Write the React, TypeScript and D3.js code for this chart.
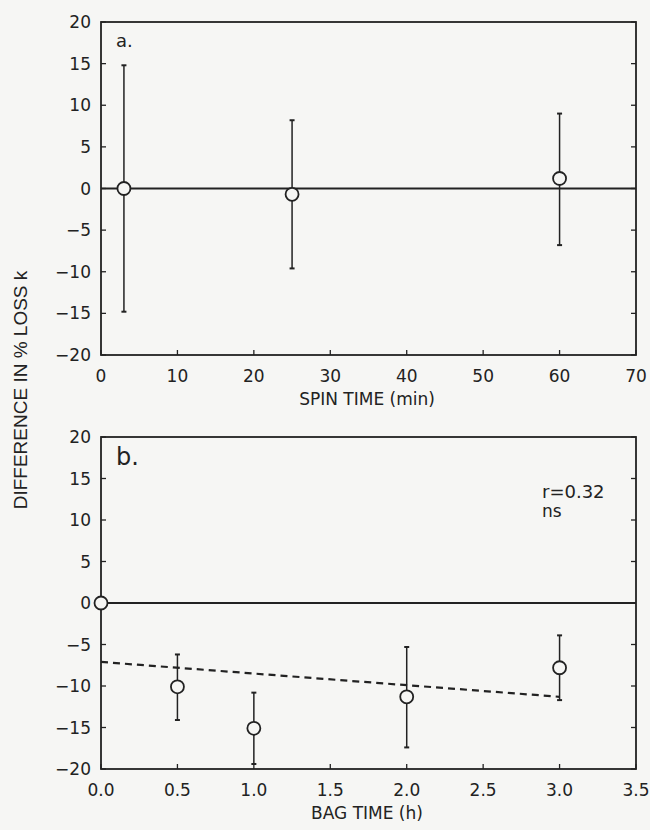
import React from 'react';
import * as d3 from 'd3';

// panel a: spin time
const spinTime = [3, 25, 60];
const spinDiff = [0, -0.7, 1.2];
const spinHi = [14.8, 8.2, 9.0];
const spinLo = [-14.8, -9.6, -6.8];
const spinTicks = [0, 10, 20, 30, 40, 50, 60, 70];

// panel b: bag time
const bagTime = [0, 0.5, 1.0, 2.0, 3.0];
const bagDiff = [0, -10.1, -15.1, -11.3, -7.8];
const bagHi = [null, -6.2, -10.8, -5.3, -3.9];
const bagLo = [null, -14.1, -19.4, -17.4, -11.7];
const bagTicks = [0, 0.5, 1.0, 1.5, 2.0, 2.5, 3.0, 3.5];

// regression line for panel b
const fitTime = [0, 3.0];
const fitDiff = [-7.1, -11.3];

const yTicks = [-20, -15, -10, -5, 0, 5, 10, 15, 20];

const INK = '#222';
const FONT = 'DejaVu Sans, sans-serif';

type PanelProps = {
  top: number;
  bottom: number;
  xMax: number;
  xTicks: number[];
  xFmt: (v: number) => string;
  xs: number[];
  ys: number[];
  his: (number | null)[];
  los: (number | null)[];
  tag: string;
  tagSize: number;
  title: string;
  fit?: { xs: number[]; ys: number[] };
};

function Panel(p: PanelProps) {
  const left = 101;
  const right = 636;
  const x = d3.scaleLinear().domain([0, p.xMax]).range([left, right]);
  const y = d3.scaleLinear().domain([-20, 20]).range([p.bottom, p.top]);
  const tick = 5;
  const cap = 2.5;

  const fitPath = p.fit
    ? d3.line<number>().x((d) => x(d)).y((_, i) => y(p.fit!.ys[i]))(p.fit.xs)
    : null;

  return (
    <g>
      {/* frame */}
      <rect x={left} y={p.top} width={right - left} height={p.bottom - p.top}
        fill="none" stroke={INK} strokeWidth={1.8} />

      {/* y ticks, both sides, inward */}
      {yTicks.map((t) => (
        <g key={'y' + t}>
          <line x1={left} x2={left + tick} y1={y(t)} y2={y(t)} stroke={INK} strokeWidth={1.3} />
          <line x1={right} x2={right - tick} y1={y(t)} y2={y(t)} stroke={INK} strokeWidth={1.3} />
          <text x={left - 10} y={y(t)} dy="0.36em" textAnchor="end" fontSize={17}
            fontFamily={FONT} fill={INK}>{d3.format('d')(t)}</text>
        </g>
      ))}

      {/* x ticks, bottom only */}
      {p.xTicks.map((t) => (
        <g key={'x' + t}>
          <line x1={x(t)} x2={x(t)} y1={p.bottom} y2={p.bottom - tick} stroke={INK} strokeWidth={1.3} />
          <text x={x(t)} y={p.bottom + 27} textAnchor="middle" fontSize={17}
            fontFamily={FONT} fill={INK}>{p.xFmt(t)}</text>
        </g>
      ))}

      {/* zero line */}
      <line x1={left} x2={right} y1={y(0)} y2={y(0)} stroke={INK} strokeWidth={1.8} />

      {fitPath && (
        <path d={fitPath} fill="none" stroke={INK} strokeWidth={2.2} strokeDasharray="7,5" />
      )}

      {/* error bars */}
      {p.xs.map((v, i) => {
        const hi = p.his[i];
        const lo = p.los[i];
        if (hi == null || lo == null) return null;
        return (
          <g key={'e' + i} stroke={INK} strokeWidth={1.5}>
            <line x1={x(v)} x2={x(v)} y1={y(hi)} y2={y(lo)} />
            <line x1={x(v) - cap} x2={x(v) + cap} y1={y(hi)} y2={y(hi)} strokeWidth={2} />
            <line x1={x(v) - cap} x2={x(v) + cap} y1={y(lo)} y2={y(lo)} strokeWidth={2} />
          </g>
        );
      })}

      {/* points */}
      {p.xs.map((v, i) => (
        <circle key={'c' + i} cx={x(v)} cy={y(p.ys[i])} r={6.5}
          fill="#f6f6f4" stroke={INK} strokeWidth={1.8} />
      ))}

      <text x={left + 15} y={p.top + (p.tagSize > 20 ? 28 : 25)} fontSize={p.tagSize}
        fontFamily={FONT} fill={INK}>{p.tag}</text>

      <text x={367} y={p.bottom + 50} textAnchor="middle" fontSize={17}
        fontFamily={FONT} fill={INK}>{p.title}</text>
    </g>
  );
}

export default function App() {
  const W = 650;
  const H = 830;
  return (
    <svg width={W} height={H} style={{ position: 'absolute', left: 0, top: 0 }}>
      <rect width={W} height={H} fill="#f6f6f4" />

      <Panel top={22} bottom={355} xMax={70} xTicks={spinTicks} xFmt={d3.format('d')}
        xs={spinTime} ys={spinDiff} his={spinHi} los={spinLo}
        tag="a." tagSize={18} title="SPIN TIME (min)" />

      <Panel top={437} bottom={769} xMax={3.5} xTicks={bagTicks} xFmt={d3.format('.1f')}
        xs={bagTime} ys={bagDiff} his={bagHi} los={bagLo}
        tag="b." tagSize={24} title="BAG TIME (h)"
        fit={{ xs: fitTime, ys: fitDiff }} />

      <text x={542} y={498} fontSize={18} fontFamily={FONT} fill={INK}>r=0.32</text>
      <text x={542} y={517} fontSize={17} fontFamily={FONT} fill={INK}>ns</text>

      <text transform="translate(27,390) rotate(-90)" textAnchor="middle" fontSize={19}
        fontFamily="Liberation Sans, Arial, sans-serif" fill={INK}>
        DIFFERENCE IN % LOSS k
      </text>
    </svg>
  );
}
